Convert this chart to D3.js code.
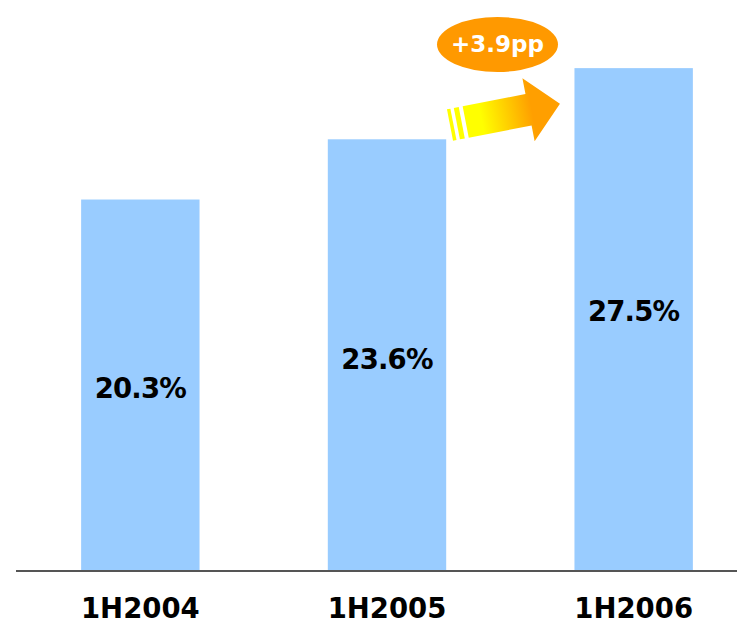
<!DOCTYPE html>
<html>
<head>
<meta charset="utf-8">
<script src="https://cdn.jsdelivr.net/npm/d3@7"></script>
<style>
  html, body { margin: 0; padding: 0; background: #ffffff; }
  svg { display: block; }
  text { font-family: "DejaVu Sans", sans-serif; font-weight: bold; }
</style>
</head>
<body>
<svg id="chart" width="737" height="624"></svg>
<script>
// Share of first-half revenue, by period
const periods = ["1H2004", "1H2005", "1H2006"];
const shares = [20.3, 23.6, 27.5];
const changeLabel = "+3.9pp";

// Vertical nudge of each value label relative to the bar middle
const labelShift = [13, 14, 2];

const width = 737, height = 624;
const baseY = 570;

const svg = d3.select("#chart");

const x = d3.scaleBand()
  .domain(periods)
  .range([17, 757])
  .paddingInner(0.52)
  .paddingOuter(0.26);

const y = d3.scaleLinear()
  .domain([0, 30])
  .range([baseY, baseY - 30 * 18.25]);

// Bars
svg.append("g")
  .selectAll("rect")
  .data(shares)
  .join("rect")
  .attr("x", (d, i) => x(periods[i]))
  .attr("y", d => y(d))
  .attr("width", x.bandwidth())
  .attr("height", d => y(0) - y(d))
  .attr("fill", "#99ccff");

// Value labels inside the bars
svg.append("g")
  .selectAll("text")
  .data(shares)
  .join("text")
  .attr("x", (d, i) => x(periods[i]) + x.bandwidth() / 2)
  .attr("y", (d, i) => (y(d) + y(0)) / 2 + labelShift[i])
  .attr("text-anchor", "middle")
  .attr("font-size", 27.5)
  .attr("letter-spacing", -0.8)
  .attr("fill", "#000")
  .text(d => d.toFixed(1) + "%");

// Baseline
svg.append("line")
  .attr("x1", 16).attr("x2", width)
  .attr("y1", baseY + 1).attr("y2", baseY + 1)
  .attr("stroke", "#555555")
  .attr("stroke-width", 2);

// Category axis labels
const xAxis = d3.axisBottom(x).tickSize(0).tickPadding(0);
const ax = svg.append("g")
  .attr("transform", `translate(0,${618})`)
  .call(xAxis);
ax.select(".domain").remove();
ax.selectAll("text")
  .attr("dy", 0)
  .attr("y", 0)
  .attr("font-size", 27.5)
  .attr("fill", "#000")
  .style("font-family", "'DejaVu Sans', sans-serif")
  .style("font-weight", "bold");

// Growth arrow between the last two bars
const defs = svg.append("defs");
const grad = defs.append("linearGradient")
  .attr("id", "arrowGrad")
  .attr("gradientUnits", "userSpaceOnUse")
  .attr("x1", 16).attr("y1", 0)
  .attr("x2", 95).attr("y2", 0);
grad.append("stop").attr("offset", "0.2").attr("stop-color", "#ffff00");
grad.append("stop").attr("offset", "0.85").attr("stop-color", "#ff9f00");

const arrow = svg.append("g")
  .attr("transform", "translate(450,125) rotate(-11)");

const shaftHalf = 16, headBase = 80, headHalf = 32, tip = 112;
arrow.append("path")
  .attr("d", `M16,${-shaftHalf} L${headBase},${-shaftHalf} L${headBase},${-headHalf} L${tip},0 L${headBase},${headHalf} L${headBase},${shaftHalf} L16,${shaftHalf} Z`)
  .attr("fill", "url(#arrowGrad)");
// Tail stripes
arrow.append("rect").attr("x", 0).attr("y", -shaftHalf).attr("width", 3.5).attr("height", shaftHalf * 2).attr("fill", "#ffff00");
arrow.append("rect").attr("x", 7).attr("y", -shaftHalf).attr("width", 5).attr("height", shaftHalf * 2).attr("fill", "#ffff00");

// Change badge
const badge = svg.append("g").attr("transform", "translate(497.5,44.5)");
badge.append("ellipse")
  .attr("rx", 60.5).attr("ry", 27.5)
  .attr("fill", "#ff9900");
badge.append("text")
  .attr("text-anchor", "middle")
  .attr("y", 7.5)
  .attr("font-size", 23)
  .attr("fill", "#ffffff")
  .text(changeLabel);
</script>
</body>
</html>
